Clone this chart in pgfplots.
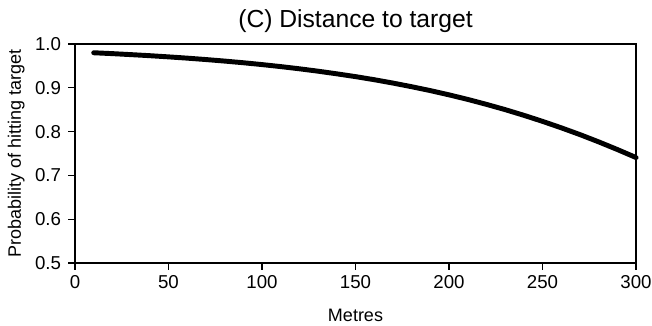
\documentclass[border=0pt]{standalone}
\usepackage{pgfplots}
\pgfplotsset{compat=1.18}
\usepackage{fontspec}
\setmainfont{Liberation Sans}
\begin{document}
\begin{tikzpicture}[x=1pt,y=1pt]
\begin{axis}[
  name=ax,
  scale only axis,
  width=420.75pt, height=164.25pt,
  xmin=0, xmax=300, ymin=0.5, ymax=1.0,
  xtick={0,50,100,150,200,250,300},
  ytick={0.5,0.6,0.7,0.8,0.9,1.0},
  xtick pos=bottom, ytick pos=left,
  tick align=outside,
  major tick length=5pt,
  tick style={black, line width=0.9pt},
  axis line style={black, line width=0.9pt},
  /pgf/number format/assume math mode=true,
  yticklabel style={/pgf/number format/fixed, /pgf/number format/fixed zerofill, /pgf/number format/precision=1, xshift=-2pt},
  xticklabel style={yshift=-1pt},
  ticklabel style={font=\fontsize{14}{16}\selectfont},
  xlabel={Metres},
  ylabel={Probability of hitting target},
  label style={font=\fontsize{13.5}{15}\selectfont},
  xlabel style={yshift=-8pt},
  ylabel style={yshift=1pt},
  title={(C) Distance to target},
  title style={font=\fontsize{18.5}{21}\selectfont, yshift=-1pt},
  clip=false,
]
\addplot[black, line width=3.7pt, line cap=round] coordinates {
(10,0.9800)(20,0.9780)(30,0.9757)(40,0.9733)(50,0.9706)(60,0.9677)
(70,0.9645)(80,0.9610)(90,0.9572)(100,0.9530)(110,0.9484)(120,0.9434)
(130,0.9379)(140,0.9319)(150,0.9255)(160,0.9185)(170,0.9108)(180,0.9025)
(190,0.8936)(200,0.8839)(210,0.8735)(220,0.8622)(230,0.8502)(240,0.8372)
(250,0.8234)(260,0.8087)(270,0.7932)(280,0.7766)(290,0.7591)(300,0.7408)
};
\end{axis}
\pgfresetboundingbox
\path[use as bounding box] ([xshift=-56.25pt,yshift=-47.25pt]ax.south west) rectangle ([xshift=12pt,yshift=33pt]ax.north east);
\end{tikzpicture}
\end{document}
